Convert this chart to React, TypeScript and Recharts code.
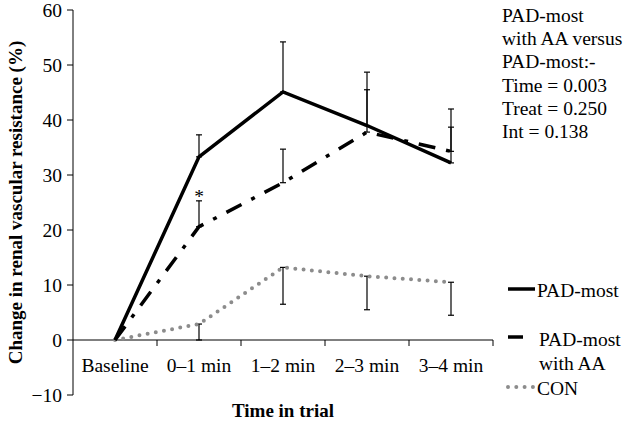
import React from "react"
import { LineChart, Line, XAxis, YAxis, ErrorBar, ReferenceLine, ReferenceDot } from "recharts"

// categories and values
const categories = ["Baseline", "0–1 min", "1–2 min", "2–3 min", "3–4 min"]
const padMost = [0, 33.3, 45.1, 39.0, 32.2]
const padMostUpper = [null, 37.3, 54.2, 48.7, 42.0]
const padAA = [0, 20.6, 28.6, 37.8, 34.3]
const padAAUpper = [null, 25.3, 34.7, 45.5, 38.7]
const con = [0, 2.9, 13.2, 11.6, 10.5]
const conLower = [null, 0, 6.5, 5.5, 4.5]
const yTicks = [-10, 0, 10, 20, 30, 40, 50, 60]
const statsLines = ["PAD-most", "with AA versus", "PAD-most:-", "Time = 0.003", "Treat = 0.250", "Int = 0.138"]

const data = categories.map((name, i) => ({
  name,
  padMost: padMost[i],
  padMostErr: padMostUpper[i] == null ? undefined : [0, +(padMostUpper[i]! - padMost[i]).toFixed(2)],
  padAA: padAA[i],
  padAAErr: padAAUpper[i] == null ? undefined : [0, +(padAAUpper[i]! - padAA[i]).toFixed(2)],
  con: con[i],
  conErr: conLower[i] == null ? undefined : [+(con[i] - conLower[i]!).toFixed(2), 0],
}))

const W = 631
const H = 422
const MARGIN = { top: 10, right: 138, bottom: 0, left: 0 }
const Y_AXIS_W = 73
const X_AXIS_H = 27
const PLOT_H = H - MARGIN.top - MARGIN.bottom - X_AXIS_H
const PLOT_W = W - MARGIN.left - MARGIN.right - Y_AXIS_W
const Y_MIN = -10
const Y_MAX = 60
const ZERO_Y = MARGIN.top + (PLOT_H * Y_MAX) / (Y_MAX - Y_MIN)
const BAND = PLOT_W / categories.length

const FONT = '"Liberation Serif", "Times New Roman", serif'
const FS = 19.5
const DASH_DOT = "17 11 4 11"
const DOTTED = "0 8.3"
const GREY = "#8c8c8c"

// x axis sits on y = 0, Excel style, with tick marks between categories
function XTick(props: any) {
  const { x, payload } = props
  return (
    <g>
      <text x={x} y={ZERO_Y + 31.5} textAnchor="middle" fontFamily={FONT} fontSize={FS} fill="#000">
        {payload.value}
      </text>
      <line x1={x + BAND / 2} x2={x + BAND / 2} y1={ZERO_Y} y2={ZERO_Y + 6} stroke="#000" strokeWidth={1} />
    </g>
  )
}

export default function App() {
  const textProps = { fontFamily: FONT, fontSize: FS, fill: "#000" }
  return (
    <div style={{ position: "absolute", left: 0, top: 0, width: W, height: H, background: "#fff" }}>
      <LineChart width={W} height={H} data={data} margin={MARGIN}>
        <XAxis
          dataKey="name"
          height={X_AXIS_H}
          padding={{ left: BAND / 2, right: BAND / 2 }}
          axisLine={false}
          tickLine={false}
          tick={<XTick />}
          interval={0}
          label={{ value: "Time in trial", position: "insideBottom", offset: 5.5, fill: "#000", style: { fontFamily: FONT, fontSize: 19, fontWeight: "bold", fill: "#000" } }}
        />
        <YAxis
          width={Y_AXIS_W}
          domain={[Y_MIN, Y_MAX]}
          ticks={yTicks}
          interval={0}
          tickSize={6}
          tickMargin={5}
          axisLine={{ stroke: "#000", strokeWidth: 1 }}
          tickLine={{ stroke: "#000", strokeWidth: 1 }}
          tick={{ fontFamily: FONT, fontSize: FS, fill: "#000" }}
          tickFormatter={(v: number) => (v < 0 ? `−${Math.abs(v)}` : `${v}`)}
          label={{
            value: "Change in renal vascular resistance (%)",
            angle: -90,
            position: "insideLeft",
            offset: 15,
            fill: "#000",
            style: { textAnchor: "middle", fontFamily: FONT, fontSize: 19, fontWeight: "bold", fill: "#000" },
          }}
        />
        <ReferenceLine y={0} stroke="#000" strokeWidth={1} />
        <Line dataKey="con" stroke={GREY} strokeWidth={4} strokeDasharray={DOTTED} strokeLinecap="round" dot={false} activeDot={false} isAnimationActive={false}>
          <ErrorBar dataKey="conErr" width={3} stroke="#000" strokeWidth={1.2} direction="y" />
        </Line>
        <Line dataKey="padAA" stroke="#000" strokeWidth={3.5} strokeDasharray={DASH_DOT} dot={false} activeDot={false} isAnimationActive={false}>
          <ErrorBar dataKey="padAAErr" width={3} stroke="#000" strokeWidth={1.2} direction="y" />
        </Line>
        <Line dataKey="padMost" stroke="#000" strokeWidth={3.5} dot={false} activeDot={false} isAnimationActive={false}>
          <ErrorBar dataKey="padMostErr" width={3} stroke="#000" strokeWidth={1.2} direction="y" />
        </Line>
        <ReferenceDot
          x="0–1 min"
          y={26.2}
          r={0}
          fill="none"
          stroke="none"
          label={{ value: "*", position: "center", fill: "#000", style: { fontFamily: FONT, fontSize: FS, fill: "#000" } }}
        />
      </LineChart>
      <svg width={W} height={H} style={{ position: "absolute", left: 0, top: 0, pointerEvents: "none" }}>
        {statsLines.map((t, i) => (
          <text key={t} x={502} y={21.7 + i * 23.3} {...textProps}>
            {t}
          </text>
        ))}
        {/* legend */}
        <line x1={508} x2={535} y1={289} y2={289} stroke="#000" strokeWidth={3.5} />
        <text x={537} y={297} {...textProps}>PAD-most</text>
        <line x1={508} x2={523} y1={337} y2={337} stroke="#000" strokeWidth={3.5} />
        <text x={539} y={346} {...textProps}>PAD-most</text>
        <text x={539} y={370} {...textProps}>with AA</text>
        <line x1={508} x2={535} y1={387} y2={387} stroke={GREY} strokeWidth={4} strokeDasharray={DOTTED} strokeLinecap="round" />
        <text x={537} y={395} {...textProps}>CON</text>
      </svg>
    </div>
  )
}
